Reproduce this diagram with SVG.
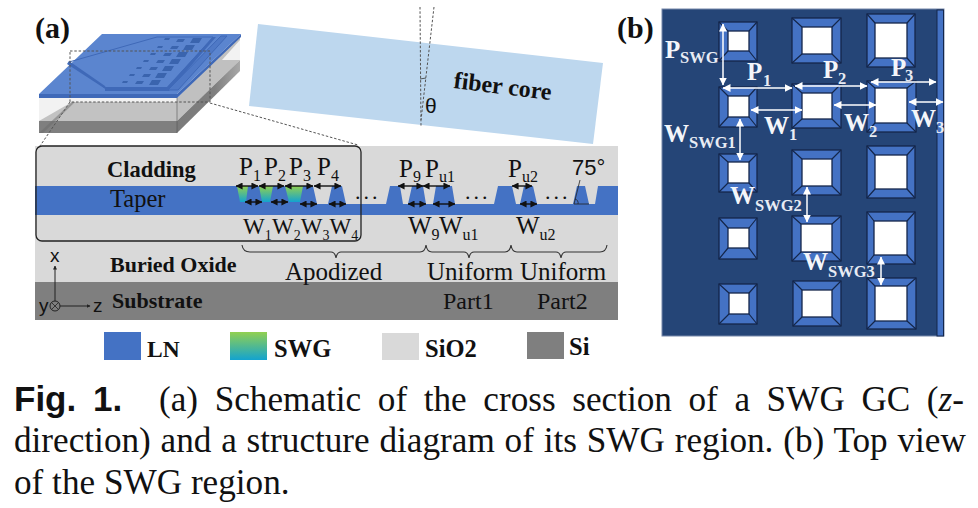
<svg xmlns="http://www.w3.org/2000/svg" width="978" height="508" viewBox="0 0 978 508">
<style>
text{font-family:"Liberation Serif","Times New Roman",serif;fill:#111}
.b{font-weight:bold}
.s{font-family:"Liberation Sans",Arial,sans-serif}
.l{font-size:25px}
.sub{font-size:16px}
.wl{font-size:23px}
.wsub{font-size:14px}
.w{fill:#f4f6fa;font-weight:bold;font-size:25px}
.ws{fill:#e8ecf4;font-weight:bold;font-size:16.5px}
.arb{fill:none;stroke:#111;stroke-width:1.4;marker-start:url(#ah);marker-end:url(#ah)}
.arw{fill:none;stroke:#fff;stroke-width:1.5;marker-start:url(#aw);marker-end:url(#aw)}
.dot{fill:none;stroke:#555;stroke-width:1;stroke-dasharray:2.5 1.8}
.br{fill:none;stroke:#333;stroke-width:1.1}
.o{fill:#4472c4;stroke:#14264a;stroke-width:1.3}
.d{fill:none;stroke:#14264a;stroke-width:1.2}
.i{fill:#fff;stroke:#14264a;stroke-width:1.3}
</style>
<defs>
<marker id="ah" viewBox="0 0 8 8" refX="7.5" refY="4" markerWidth="7" markerHeight="7" orient="auto-start-reverse" markerUnits="userSpaceOnUse"><path d="M0 0L8 4L0 8Z" fill="#111"/></marker>
<marker id="aw" viewBox="0 0 8 8" refX="7.5" refY="4" markerWidth="8" markerHeight="8" orient="auto-start-reverse" markerUnits="userSpaceOnUse"><path d="M0 0L8 4L0 8Z" fill="#fff"/></marker>
<marker id="ak" viewBox="0 0 8 8" refX="7" refY="4" markerWidth="4" markerHeight="4" orient="auto" markerUnits="userSpaceOnUse"><path d="M0 0L8 4L0 8Z" fill="#222"/></marker>
<linearGradient id="g" x1="0" y1="0" x2="0" y2="1"><stop offset="0" stop-color="#92d050"/><stop offset="1" stop-color="#13a3cf"/></linearGradient>
<linearGradient id="bandg" x1="0" y1="0" x2="1" y2="0"><stop offset="0" stop-color="#7a7a7a"/><stop offset="0.6" stop-color="#7f7f7f"/><stop offset="1" stop-color="#a8a8a8"/></linearGradient>
</defs>

<rect width="978" height="508" fill="#fff"/>
<text class="b" x="35" y="38" font-size="30">(a)</text>
<text class="b" x="617" y="38" font-size="30">(b)</text>

<g id="block">
<rect x="39" y="98" width="138" height="35" fill="#c2c2c2"/>
<polygon points="39,98 177,98 177,102 72,102 39,121" fill="#f2f2f2"/>
<rect x="39" y="121" width="138" height="12" fill="#7f7f7f"/>
<polygon points="39,133 72,102 75,102 43,133" fill="#6b6b6b" opacity="0.5"/>
<polygon points="177,98 240,36 240,60 177,121" fill="#c0c0c0"/>
<polygon points="240,40 240,60 222,60" fill="#f2f2f2"/>
<polygon points="177,121 240,60 240,71 177,133" fill="url(#bandg)"/>
<path d="M177 97V133" stroke="#555" stroke-width="0.6"/>
<polygon points="39,94 102,34 241,34 177,94 177,98 39,98" fill="#5b85cf"/>
<polygon points="39,94 177,94 241,34 241,37 177,98 39,98" fill="#3f69b8"/>
<path d="M69 62L105 88H167L213 37H157L69 62" fill="none" stroke="#3f69b8" stroke-width="1"/>
<path d="M69 61L105 86L107 90L67 64Z" fill="#3f69b8"/>
<path d="M105 87H167L213 37L216 37L169 91H105Z" fill="#3f69b8"/>
<path d="M168 90L221 36H227L178 90Z" fill="#4f79c6" stroke="#3f69b8"/>
<path id="grid" fill="#3a64ae" d="M164 40h5l1 -2h-5zM176 42h7l2 -3h-7zM190 43h9l3 -5h-9zM157 48h5l1 -2h-5zM170 49h7l2 -3h-7zM183 50h9l3 -5h-9zM150 55h5l1 -2h-5zM163 56h7l2 -3h-7zM176 57h9l3 -5h-9zM143 62h5l1 -2h-5zM156 63h7l2 -3h-7zM169 64h9l3 -5h-9zM136 69h5l1 -2h-5zM149 70h7l2 -3h-7zM162 71h9l3 -5h-9zM129 76h5l1 -2h-5zM142 77h7l2 -3h-7zM155 78h9l3 -5h-9zM122 83h5l1 -2h-5zM135 84h7l2 -3h-7zM149 85h9l3 -5h-9z"/>
</g>

<g id="fiber">
<polygon points="258,24 603,63 593,144 249,106" fill="#bdd7ee"/>
<text class="b" font-size="24" transform="translate(453,88) rotate(7)">fiber core</text>
<path class="dot" d="M420 7L421 126M434 7L421 120"/>
<path d="M420 79L426 78" stroke="#333" stroke-width="0.8"/>
<text class="s" x="425" y="113" font-size="21">θ</text>
</g>

<g id="cross-section">
<rect x="35" y="146" width="583" height="136" fill="#d9d9d9"/>
<rect x="35" y="282" width="583" height="38" fill="#7f7f7f"/>
<path fill="#4472c4" d="M35 186H313L317 204H328L332 186H342L346 204H386L390 186H400L403 204H408L412 186H423L426 204H433L436 186H452L455 204H494L498 186H512L516 204H520L524 186H533L537 204H573L577 186H585L589 204H595L598 186H618V215H35Z"/>
<path fill="url(#g)" d="M237 186H248L246 202H240ZM259 186H273L270 202H262ZM285 186H303L300 202H289Z"/>
<rect x="36" y="146" width="325" height="95" rx="6" fill="none" stroke="#222" stroke-width="1.3"/>
<path d="M574 204H589M580 180L574 204" stroke="#222" stroke-width="0.8" fill="none"/>
<path d="M578 204A4 4 0 0 0 575 199" stroke="#222" stroke-width="0.8" fill="none"/>
</g>

<g id="guides">
<rect class="dot" x="70" y="51" width="140" height="51"/>
<path class="dot" d="M70 102L40 146M210 103L358 145"/>
</g>

<g id="cross-labels">
<text class="b" x="107" y="177" font-size="22.5">Cladding</text>
<text x="110" y="207" font-size="24.5">Taper</text>
<text class="b" x="110" y="272" font-size="22">Buried Oxide</text>
<text class="b" x="112" y="308" font-size="22">Substrate</text>
<text class="l" x="239" y="175">P<tspan class="sub" dy="6">1</tspan></text>
<text class="l" x="264" y="175">P<tspan class="sub" dy="6">2</tspan></text>
<text class="l" x="289" y="175">P<tspan class="sub" dy="6">3</tspan></text>
<text class="l" x="317" y="175">P<tspan class="sub" dy="6">4</tspan></text>
<text class="l" x="399" y="177">P<tspan class="sub" dy="5">9</tspan></text>
<text class="l" x="425" y="177">P<tspan class="sub" dy="5">u1</tspan></text>
<text class="l" x="508" y="177">P<tspan class="sub" dy="5">u2</tspan></text>
<text class="s" x="572" y="175" font-size="22">75°</text>
<text class="wl" x="243" y="234">W<tspan class="wsub" dy="6">1</tspan></text>
<text class="wl" x="272" y="234">W<tspan class="wsub" dy="6">2</tspan></text>
<text class="wl" x="300.8" y="234">W<tspan class="wsub" dy="6">3</tspan></text>
<text class="wl" x="329.6" y="234">W<tspan class="wsub" dy="6">4</tspan></text>
<text class="l" x="408" y="234">W<tspan class="sub" dy="6">9</tspan></text>
<text class="l" x="439" y="234">W<tspan class="sub" dy="6">u1</tspan></text>
<text class="l" x="516" y="234">W<tspan class="sub" dy="6">u2</tspan></text>
<text x="285" y="280" font-size="25">Apodized</text>
<text x="427" y="280" font-size="25">Uniform</text>
<text x="520" y="280" font-size="25">Uniform</text>
<text x="443" y="309" font-size="24">Part1</text>
<text x="537" y="309" font-size="24">Part2</text>
<text x="355" y="199" font-size="22" letter-spacing="3">...</text>
<text x="465" y="199" font-size="22" letter-spacing="3">...</text>
<text x="545" y="199" font-size="22" letter-spacing="3">...</text>
</g>

<g id="connectors">
<path class="arb" d="M236 186H258"/><path class="arb" d="M259 186H284"/><path class="arb" d="M285 186H313"/><path class="arb" d="M314 186H341"/>
<path class="arb" d="M398 186H423"/><path class="arb" d="M423 186H450"/><path class="arb" d="M512 186H532"/>
<path class="arb" d="M245 202H262"/><path class="arb" d="M271 202H288"/><path class="arb" d="M300 204H317"/><path class="arb" d="M329 204H346"/>
<path class="arb" d="M408 204H426"/><path class="arb" d="M433 204H455"/><path class="arb" d="M520 204H537"/>
<path class="br" d="M242 245Q243 252 250 252H331Q335 252 336 258Q337 252 341 252H420Q425 252 426 245Q427 252 432 252H464Q468 252 469 258Q470 252 474 252H505Q510 252 511 245Q512 252 517 252H556Q560 252 561 258Q562 252 566 252H600Q606 252 607 245"/>
<path d="M55 301V266" stroke="#222" stroke-width="1" marker-end="url(#ak)"/>
<path d="M60 306H90" stroke="#222" stroke-width="1" marker-end="url(#ak)"/>
<circle cx="55" cy="306" r="5" fill="none" stroke="#222"/>
<path d="M51.5 302.5L58.5 309.5M58.5 302.5L51.5 309.5" stroke="#222" stroke-width="0.8"/>
</g>
<g id="axis-labels">
<text class="s" x="50" y="262" font-size="19">x</text>
<text class="s" x="39" y="312" font-size="19">y</text>
<text class="s" x="93" y="312" font-size="19">z</text>
</g>

<g id="legend">
<rect x="104" y="332" width="37" height="28" fill="#4472c4"/>
<text class="b" x="147" y="357" font-size="23.5">LN</text>
<rect x="230" y="332" width="37" height="28" fill="url(#g)"/>
<text class="b" x="274" y="357" font-size="24.5">SWG</text>
<rect x="382" y="333" width="37" height="27" fill="#d9d9d9"/>
<text class="b" x="425" y="357" font-size="24.5">SiO2</text>
<rect x="527" y="332" width="37" height="27" fill="#7f7f7f"/>
<text class="b" x="569" y="355" font-size="24.5">Si</text>
</g>

<g id="panel-b">
<rect x="662" y="9" width="282" height="327" fill="#254577" stroke="#7788aa" stroke-width="1"/>
<rect x="937" y="10" width="6.5" height="326" fill="#4472c4" stroke="#14264a" stroke-width="1"/>
<g id="r1c1"><rect class="o" x="719" y="22" width="38" height="39"/><path class="d" d="M719 22L728 31M757 22L749 31M719 61L728 51M757 61L749 51"/><rect class="i" x="728" y="31" width="21" height="20"/></g>
<g id="r1c2"><rect class="o" x="792" y="18" width="49" height="45"/><path class="d" d="M792 18L802 27M841 18L832 27M792 63L802 54M841 63L832 54"/><rect class="i" x="802" y="27" width="30" height="27"/></g>
<g id="r1c3"><rect class="o" x="867" y="14" width="48" height="53"/><path class="d" d="M867 14L875 23M915 14L907 23M867 67L875 58M915 67L907 58"/><rect class="i" x="875" y="23" width="32" height="35"/></g>
<g id="r2c1"><rect class="o" x="719" y="87" width="38" height="40"/><path class="d" d="M719 87L728 96M757 87L749 96M719 127L728 117M757 127L749 117"/><rect class="i" x="728" y="96" width="21" height="21"/></g>
<g id="r2c2"><rect class="o" x="792" y="84" width="49" height="44"/><path class="d" d="M792 84L802 93M841 84L832 93M792 128L802 119M841 128L832 119"/><rect class="i" x="802" y="93" width="30" height="26"/></g>
<g id="r2c3"><rect class="o" x="867" y="81" width="49" height="51"/><path class="d" d="M867 81L875 88M916 81L907 88M867 132L875 123M916 132L907 123"/><rect class="i" x="875" y="88" width="32" height="35"/></g>
<g id="r3c1"><rect class="o" x="719" y="154" width="38" height="38"/><path class="d" d="M719 154L728 162M757 154L749 162M719 192L728 183M757 192L749 183"/><rect class="i" x="728" y="162" width="21" height="21"/></g>
<g id="r3c2"><rect class="o" x="792" y="150" width="49" height="45"/><path class="d" d="M792 150L802 159M841 150L832 159M792 195L802 186M841 195L832 186"/><rect class="i" x="802" y="159" width="30" height="27"/></g>
<g id="r3c3"><rect class="o" x="867" y="146" width="48" height="52"/><path class="d" d="M867 146L875 155M915 146L907 155M867 198L875 189M915 198L907 189"/><rect class="i" x="875" y="155" width="32" height="34"/></g>
<g id="r4c1"><rect class="o" x="719" y="218" width="38" height="41"/><path class="d" d="M719 218L728 228M757 218L749 228M719 259L728 248M757 259L749 248"/><rect class="i" x="728" y="228" width="21" height="20"/></g>
<g id="r4c2"><rect class="o" x="792" y="216" width="49" height="45"/><path class="d" d="M792 216L801 224M841 216L832 224M792 261L801 252M841 261L832 252"/><rect class="i" x="801" y="224" width="31" height="28"/></g>
<g id="r4c3"><rect class="o" x="867" y="212" width="48" height="52"/><path class="d" d="M867 212L874 221M915 212L907 221M867 264L874 255M915 264L907 255"/><rect class="i" x="874" y="221" width="33" height="34"/></g>
<g id="r5c1"><rect class="o" x="719" y="284" width="38" height="40"/><path class="d" d="M719 284L729 293M757 284L749 293M719 324L729 314M757 324L749 314"/><rect class="i" x="729" y="293" width="20" height="21"/></g>
<g id="r5c2"><rect class="o" x="793" y="281" width="48" height="45"/><path class="d" d="M793 281L802 290M841 281L832 290M793 326L802 317M841 326L832 317"/><rect class="i" x="802" y="290" width="30" height="27"/></g>
<g id="r5c3"><rect class="o" x="867" y="278" width="49" height="51"/><path class="d" d="M867 278L875 286M916 278L907 286M867 329L875 321M916 329L907 321"/><rect class="i" x="875" y="286" width="32" height="35"/></g>
</g>

<g id="panel-b-connectors">
<path class="arw" d="M723 24V85"/><path class="arw" d="M723 88H792"/><path class="arw" d="M795 86H867"/><path class="arw" d="M871 82H936"/>
<path class="arw" d="M751 110H802"/><path class="arw" d="M834 105H876"/><path class="arw" d="M909 102H943"/>
<path class="arw" d="M740 119V160"/><path class="arw" d="M807 187V222"/><path class="arw" d="M881 257V285"/>
</g>
<g id="panel-b-labels">
<text class="w" x="665" y="58">P</text><text class="ws" x="680" y="63">SWG</text>
<text class="w" x="747" y="80">P</text><text class="ws" x="763" y="86">1</text>
<text class="w" x="823" y="78">P</text><text class="ws" x="838" y="84">2</text>
<text class="w" x="891" y="76">P</text><text class="ws" x="905" y="81">3</text>
<text class="w" x="764" y="134">W</text><text class="ws" x="789" y="140">1</text>
<text class="w" x="844" y="131">W</text><text class="ws" x="869" y="137">2</text>
<text class="w" x="911" y="127">W</text><text class="ws" x="936" y="133">3</text>
<text class="w" x="664" y="142">W</text><text class="ws" x="689" y="148">SWG1</text>
<text class="w" x="730" y="204">W</text><text class="ws" x="755" y="211">SWG2</text>
<text class="w" x="803" y="270">W</text><text class="ws" x="828" y="277">SWG3</text>
</g>

<g id="caption">
<text class="s b" x="14" y="411" font-size="35" word-spacing="7">Fig. 1.</text>
<text x="159" y="411" font-size="35.2" word-spacing="7.8">(a) Schematic of the cross section of a SWG GC (<tspan font-style="italic">z</tspan>-</text>
<text x="14" y="452" font-size="35.2" word-spacing="1">direction) and a structure diagram of its SWG region. (b) Top view</text>
<text x="14" y="494" font-size="35.2">of the SWG region.</text>
</g>
</svg>
